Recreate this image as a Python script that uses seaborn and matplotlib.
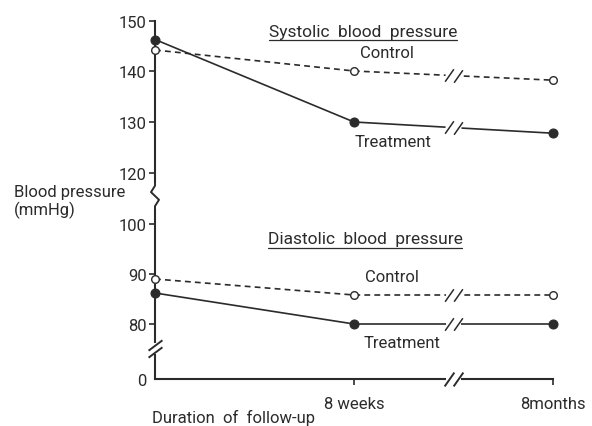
import numpy as np
import pandas as pd
import seaborn as sns
import matplotlib
matplotlib.use("Agg")
import matplotlib.pyplot as plt
from matplotlib.path import Path

# ---- data ----
timepoints = ["Baseline", "8 weeks", "8months"]
x_pos = [0, 1, 2]
systolic_control = [144.2, 140.0, 138.2]
systolic_treatment = [146.3, 130.0, 127.8]
diastolic_control = [89.0, 85.8, 85.8]
diastolic_treatment = [86.2, 80.0, 80.0]
y_ticks = [0, 80, 90, 100, 120, 130, 140, 150]

# ---- broken-axis scale (value -> drawing units) ----
scale_values = np.array([0, 80, 90, 100, 120, 130, 140, 150], dtype=float)
scale_units = np.array([0, 55, 105, 155, 206, 257, 308, 358], dtype=float)


def fwd(v):
    return np.interp(np.asarray(v, dtype=float), scale_values, scale_units)


def inv(u):
    return np.interp(np.asarray(u, dtype=float), scale_units, scale_values)


sns.set_theme(style="white")
plt.rcParams["font.family"] = ["Roboto", "DejaVu Sans"]
INK = "#2b2b2b"
W, H = 592, 427
fig = plt.figure(figsize=(W / 100, H / 100), dpi=100)
ax = fig.add_axes([155 / W, (H - 380) / H, (553 - 155) / W, (380 - 22) / H])
ax.set_yscale("function", functions=(fwd, inv))

series = [
    (systolic_control, "control"),
    (systolic_treatment, "treatment"),
    (diastolic_control, "control"),
    (diastolic_treatment, "treatment"),
]
for vals, kind in series:
    if kind == "control":
        sns.lineplot(x=x_pos, y=vals, ax=ax, color=INK, linewidth=1.2,
                     linestyle=(0, (3.5, 2.5)), marker="o", markersize=5.5,
                     markerfacecolor="white", markeredgecolor=INK,
                     markeredgewidth=1.0, clip_on=False, zorder=3)
    else:
        sns.lineplot(x=x_pos, y=vals, ax=ax, color=INK, linewidth=1.2,
                     marker="o", markersize=6.5, markerfacecolor=INK,
                     markeredgecolor=INK, clip_on=False, zorder=3)

ax.set_xlim(0, 2)
ax.set_ylim(0, 150)
ax.set_yticks(y_ticks)
ax.set_yticklabels([str(t) for t in y_ticks])
ax.set_xticks(x_pos[1:])
ax.set_xticklabels(timepoints[1:])
ax.tick_params(axis="y", direction="out", length=4, width=1.2, colors=INK,
               labelsize=12, pad=2, left=True)
ax.tick_params(axis="x", direction="out", length=4, width=1.2, colors=INK,
               labelsize=12, pad=8, bottom=True)
ax.yaxis.get_major_ticks()[0].tick1line.set_visible(False)
for lab in ax.get_xticklabels() + ax.get_yticklabels():
    lab.set_color(INK)
for s in ["top", "right"]:
    ax.spines[s].set_visible(False)
for s in ["left", "bottom"]:
    ax.spines[s].set_color(INK)
    ax.spines[s].set_linewidth(1.5)
ax.grid(False)
ax.set_xlabel("")
ax.set_ylabel("")

# ---- break marks ----
slash = Path([(-0.35, -0.5), (0.35, 0.5)], [Path.MOVETO, Path.LINETO])
xbreak = 1.5
gap = 0.04
for vals, kind in series:
    yb = np.interp([xbreak - gap, xbreak + gap], x_pos, vals)
    ax.plot([xbreak - gap, xbreak + gap], yb, color="white", linewidth=3,
            zorder=4, solid_capstyle="butt")
    ax.plot([xbreak - gap * 0.55, xbreak + gap * 0.55], yb, linestyle="none",
            marker=slash, markersize=9, markeredgewidth=1.1, color=INK, zorder=5)
# x axis break
ax.plot([xbreak - gap, xbreak + gap], [0, 0], color="white", linewidth=4,
        zorder=4, clip_on=False, solid_capstyle="butt")
ax.plot([xbreak - gap * 0.55, xbreak + gap * 0.55], [0, 0], linestyle="none",
        marker=slash, markersize=10, markeredgewidth=1.4, color=INK, zorder=5,
        clip_on=False)

ytr = ax.get_yaxis_transform()
# y axis break between 0 and 80
ax.plot([0, 0], [36, 52], color="white", linewidth=4, transform=ytr,
        zorder=4, clip_on=False, solid_capstyle="butt")
vslash = Path([(-0.4, -0.3), (0.4, 0.3)], [Path.MOVETO, Path.LINETO])
ax.plot([0, 0], [39, 49], transform=ytr, linestyle="none", marker=vslash,
        markersize=10, markeredgewidth=1.4, color=INK, zorder=5, clip_on=False)
# y axis zigzag between 100 and 120
ax.plot([0, 0], [106, 116], color="white", linewidth=4, transform=ytr,
        zorder=4, clip_on=False, solid_capstyle="butt")
dx = 4 / 398
ax.plot([0, 0, dx, -dx, 0, 0], [104, 107, 109.5, 112.5, 115, 118],
        transform=ytr, color=INK, linewidth=1.4, zorder=5, clip_on=False)


# ---- text ----
def ftext(x, y, s, **kw):
    return fig.text(x / W, 1 - y / H, s, color=INK, **kw)


t1 = ftext(363, 32, "Systolic  blood  pressure", fontsize=12.5, ha="center", va="center")
t2 = ftext(365, 240, "Diastolic  blood  pressure", fontsize=12.5, ha="center", va="center")
ftext(387, 53, "Control", fontsize=12, ha="center", va="center")
ftext(393, 143, "Treatment", fontsize=12, ha="center", va="center")
ftext(392, 278, "Control", fontsize=12, ha="center", va="center")
ftext(402, 344, "Treatment", fontsize=12, ha="center", va="center")
ftext(14, 193, "Blood pressure", fontsize=12, ha="left", va="center")
ftext(14, 210, "(mmHg)", fontsize=12, ha="left", va="center")
ftext(152, 418, "Duration  of  follow-up", fontsize=12, ha="left", va="center")

fig.canvas.draw()
r = fig.canvas.get_renderer()
for t in (t1, t2):
    bb = t.get_window_extent(r).transformed(fig.transFigure.inverted())
    fig.add_artist(plt.Line2D([bb.x0, bb.x1], [bb.y0 - 0.003, bb.y0 - 0.003],
                              transform=fig.transFigure, color=INK, linewidth=0.9))

fig.savefig("out.png", dpi=100, facecolor="white")
